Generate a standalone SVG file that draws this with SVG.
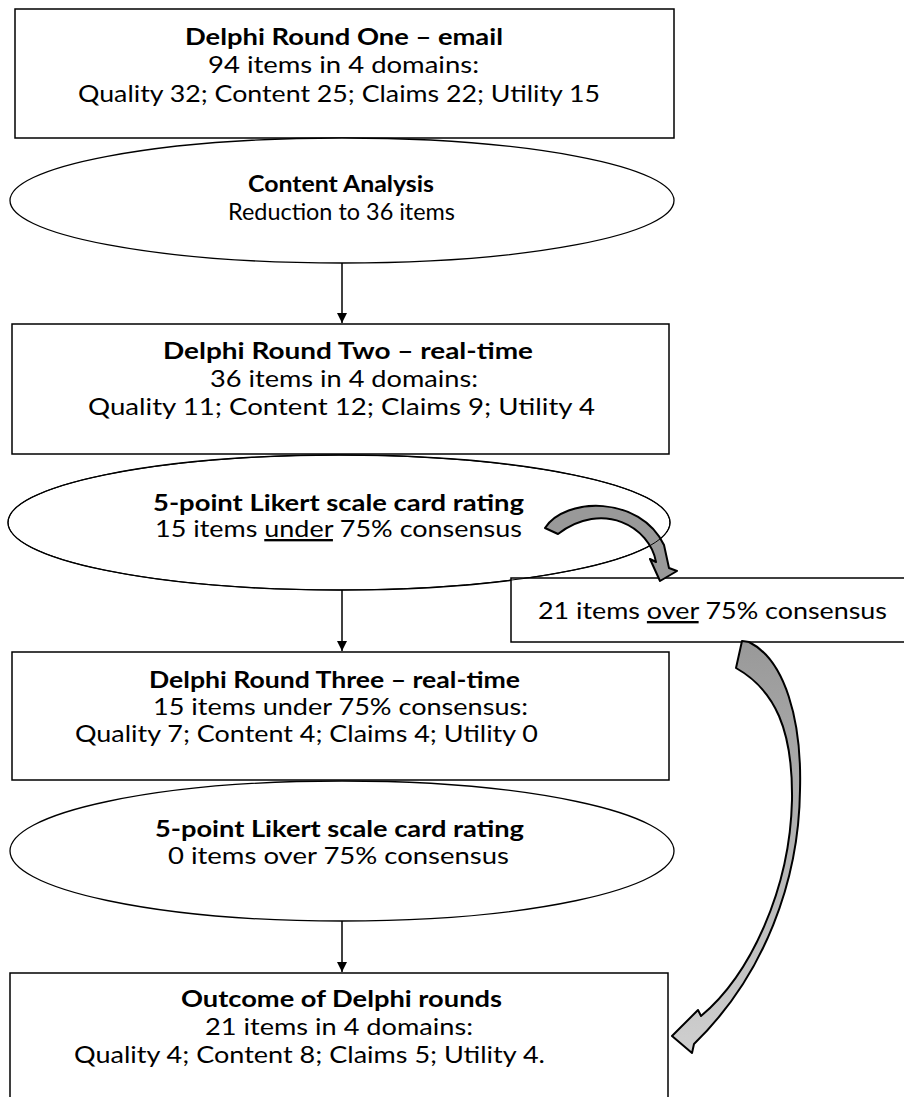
<svg xmlns="http://www.w3.org/2000/svg" width="904" height="1097" viewBox="0 0 904 1097">
<defs>
<style>
.box{fill:#fff;stroke:#000;stroke-width:1.5}
.ell{fill:#fff;stroke:#000;stroke-width:1.3}
.t{font-family:Lato,Carlito,"Liberation Sans",sans-serif;font-size:23.5px;fill:#000}
.b{font-weight:bold}
.u{text-decoration:underline}
.con{stroke:#000;stroke-width:1.5;fill:none}
.ca{stroke:#000;stroke-width:2;stroke-linejoin:round}
</style>
<marker id="ah" markerWidth="12" markerHeight="12" refX="10" refY="5" orient="auto" markerUnits="userSpaceOnUse">
<path d="M0,0 L10,5 L0,10 Z" fill="#000"/>
</marker>
<linearGradient id="bg" x1="0" y1="0" x2="0" y2="1">
<stop offset="0" stop-color="#999"/>
<stop offset="1" stop-color="#cfcfcf"/>
</linearGradient>
</defs>

<g id="round1">
<rect class="box" x="15" y="9" width="659" height="129"/>
<text class="t b" x="185" y="45" textLength="318" lengthAdjust="spacingAndGlyphs">Delphi Round One – email</text>
<text class="t" x="208" y="73" textLength="271" lengthAdjust="spacingAndGlyphs">94 items in 4 domains:</text>
<text class="t" x="78" y="102" textLength="522" lengthAdjust="spacingAndGlyphs">Quality 32; Content 25; Claims 22; Utility 15</text>
</g>

<g id="content-analysis">
<ellipse class="ell" cx="342" cy="200.5" rx="332" ry="62.5"/>
<text class="t b" x="248" y="192" textLength="186" lengthAdjust="spacingAndGlyphs">Content Analysis</text>
<text class="t" x="228" y="220" textLength="227" lengthAdjust="spacingAndGlyphs">Reduction to 36 items</text>
</g>

<g id="round2">
<rect class="box" x="12" y="324" width="657" height="130"/>
<text class="t b" x="163" y="359" textLength="370" lengthAdjust="spacingAndGlyphs">Delphi Round Two – real-time</text>
<text class="t" x="210" y="387" textLength="268" lengthAdjust="spacingAndGlyphs">36 items in 4 domains:</text>
<text class="t" x="88" y="415" textLength="507" lengthAdjust="spacingAndGlyphs">Quality 11; Content 12; Claims 9; Utility 4</text>
</g>

<g id="rating1">
<ellipse class="ell" cx="339" cy="522.5" rx="331" ry="67.5"/>
<text class="t b" x="153" y="511" textLength="371" lengthAdjust="spacingAndGlyphs">5-point Likert scale card rating</text>
<text class="t" x="155" y="537" textLength="367" lengthAdjust="spacingAndGlyphs">15 items <tspan class="u">under</tspan> 75% consensus</text>
</g>

<g id="over75">
<rect class="box" x="511" y="578" width="400" height="64"/>
<text class="t" x="538" y="619" textLength="349" lengthAdjust="spacingAndGlyphs">21 items <tspan class="u">over</tspan> 75% consensus</text>
</g>

<g id="round3">
<rect class="box" x="12" y="652" width="657" height="128"/>
<text class="t b" x="149" y="688" textLength="371" lengthAdjust="spacingAndGlyphs">Delphi Round Three – real-time</text>
<text class="t" x="153" y="715" textLength="375" lengthAdjust="spacingAndGlyphs">15 items under 75% consensus:</text>
<text class="t" x="75" y="742" textLength="463" lengthAdjust="spacingAndGlyphs">Quality 7; Content 4; Claims 4; Utility 0</text>
</g>

<g id="rating2">
<ellipse class="ell" cx="342" cy="851" rx="332" ry="70"/>
<text class="t b" x="155" y="837" textLength="369" lengthAdjust="spacingAndGlyphs">5-point Likert scale card rating</text>
<text class="t" x="168" y="864" textLength="341" lengthAdjust="spacingAndGlyphs">0 items over 75% consensus</text>
</g>

<g id="outcome">
<rect class="box" x="10" y="973" width="658" height="140"/>
<text class="t b" x="181" y="1007" textLength="321" lengthAdjust="spacingAndGlyphs">Outcome of Delphi rounds</text>
<text class="t" x="205" y="1035" textLength="268" lengthAdjust="spacingAndGlyphs">21 items in 4 domains:</text>
<text class="t" x="74" y="1063" textLength="471" lengthAdjust="spacingAndGlyphs">Quality 4; Content 8; Claims 5; Utility 4.</text>
</g>

<g id="connectors">
<line class="con" x1="342" y1="263" x2="342" y2="323" marker-end="url(#ah)"/>
<line class="con" x1="342" y1="590" x2="342" y2="651" marker-end="url(#ah)"/>
<line class="con" x1="342" y1="921" x2="342" y2="972" marker-end="url(#ah)"/>
<path class="ca" fill="#999" d="M545 528 C565 497 640 495 664 545 L669 568 L677 571 L660 581 L650 559 L656 562 C650 527 603 500 558 534 Z"/>
<ellipse cx="339" cy="522.5" rx="331" ry="67.5" fill="none" stroke="#000" stroke-width="1"/>
<path class="ca" fill="url(#bg)" d="M742 641 L749 642 C785 660 802 720 800 790 C799 880 765 975 694 1044 L692 1053 L672 1036 L698 1010 L701 1016 C750 975 790 890 792 800 C793 730 775 690 736 668 Z"/>
</g>
</svg>
